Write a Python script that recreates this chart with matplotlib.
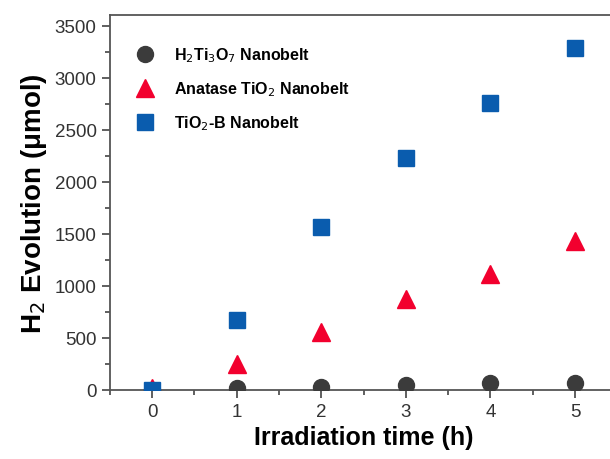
from matplotlib import pyplot as plt
import numpy as np
from matplotlib.ticker import MultipleLocator

plt.rcParams['font.family'] = ['Liberation Sans', 'DejaVu Sans']

time_h = [0, 1, 2, 3, 4, 5]
h2ti3o7 = [0, 15, 30, 45, 60, 62]
anatase = [20, 247, 552, 872, 1113, 1427]
tio2b = [0, 673, 1561, 2228, 2757, 3283]

fig = plt.figure(figsize=(6.1, 4.6), dpi=100)
ax = fig.add_axes([0.180, 0.1507, 0.832, 0.8143])

ax.plot(time_h, h2ti3o7, 'o', color='#3b3b3b', markersize=11.5,
        label='H$_2$Ti$_3$O$_7$ Nanobelt', zorder=3)
ax.plot(time_h, anatase, '^', color='#f2002e', markersize=13,
        label='Anatase TiO$_2$ Nanobelt', zorder=3)
ax.plot(time_h, tio2b, 's', color='#0a5cae', markersize=11,
        label='TiO$_2$-B Nanobelt', zorder=3)

ax.set_xlim(-0.5, 5.5)
ax.set_ylim(0, 3600)
ax.set_xticks(time_h)
ax.set_yticks(np.arange(0, 3501, 500))
ax.xaxis.set_minor_locator(MultipleLocator(0.5))
ax.yaxis.set_minor_locator(MultipleLocator(250))
ax.tick_params(which='both', direction='out', colors='#444444', labelcolor='#333333',
               labelsize=13.5, width=1.2)
ax.tick_params(which='major', length=6)
ax.tick_params(which='minor', length=3.5)
for s in ax.spines.values():
    s.set_color('#555555')
    s.set_linewidth(1.3)

ax.set_xlabel('Irradiation time (h)', fontsize=18, fontweight='bold', labelpad=4)
ax.set_ylabel('H$_2$ Evolution (μmol)', fontsize=20, fontweight='bold', labelpad=4)

leg = ax.legend(loc='upper left', bbox_to_anchor=(0.0, 0.97), frameon=False,
                prop={'weight': 'bold', 'size': 11.5}, handletextpad=0.8,
                labelspacing=0.95, borderaxespad=0.8)

plt.savefig('out.png', dpi=100)
